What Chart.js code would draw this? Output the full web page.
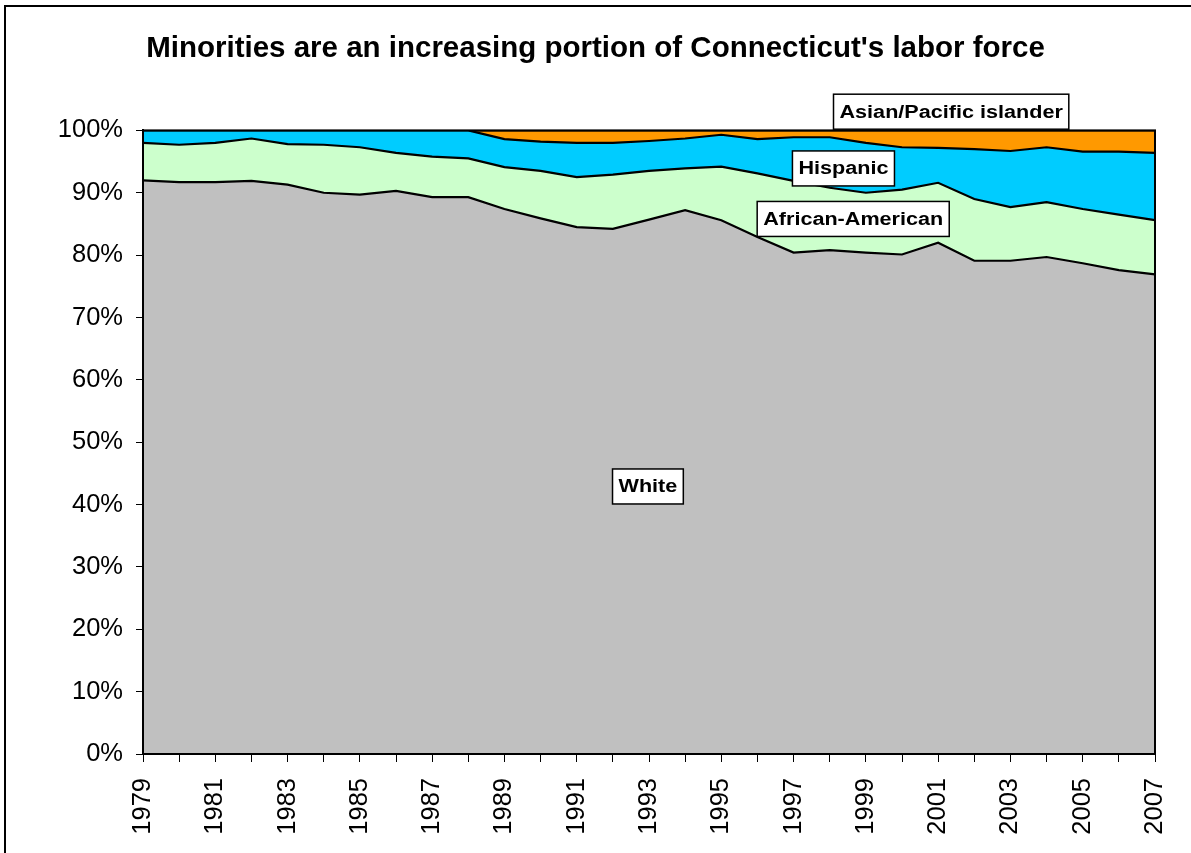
<!DOCTYPE html>
<html>
<head>
<meta charset="utf-8">
<script src="https://cdn.jsdelivr.net/npm/chart.js@4/dist/chart.umd.min.js"></script>
<style>
  html, body { margin: 0; padding: 0; background: #fff; }
  #wrap { width: 1191px; height: 853px; position: relative; }
</style>
</head>
<body>
<div id="wrap"><canvas id="laborChart" width="1191" height="853"></canvas></div>
<script>
const years = ['1979','1980','1981','1982','1983','1984','1985','1986','1987','1988','1989','1990','1991','1992','1993','1994','1995','1996','1997','1998','1999','2000','2001','2002','2003','2004','2005','2006','2007'];

// share of labor force, percent
const white = [92.0, 91.7, 91.7, 91.9, 91.3, 90.0, 89.7, 90.3, 89.3, 89.3, 87.4, 85.9, 84.5, 84.2, 85.7, 87.2, 85.6, 82.9, 80.4, 80.8, 80.4, 80.1, 82.0, 79.1, 79.1, 79.7, 78.7, 77.6, 76.9];
const africanAmerican = [6.0, 6.0, 6.3, 6.8, 6.5, 7.7, 7.6, 6.1, 6.5, 6.2, 6.7, 7.6, 8.0, 8.7, 7.8, 6.7, 8.6, 10.2, 11.5, 10.0, 9.6, 10.4, 9.6, 9.9, 8.6, 8.8, 8.7, 8.9, 8.7];
const hispanic = [2.0, 2.3, 2.0, 1.3, 2.2, 2.3, 2.7, 3.6, 4.2, 4.5, 4.5, 4.7, 5.5, 5.1, 4.8, 4.8, 5.1, 5.5, 7.0, 8.1, 8.0, 6.8, 5.6, 8.0, 9.0, 8.8, 9.2, 10.1, 10.8];
const asianPacific = [0, 0, 0, 0, 0, 0, 0, 0, 0, 0, 1.4, 1.8, 2.0, 2.0, 1.7, 1.3, 0.7, 1.4, 1.1, 1.1, 2.0, 2.7, 2.8, 3.0, 3.3, 2.7, 3.4, 3.4, 3.6];

const yTicks = [0, 10, 20, 30, 40, 50, 60, 70, 80, 90, 100];

// series name boxes: year index and value where each box is centred
const seriesLabels = [
  { text: 'White', at: 13.97, value: 42.9 },
  { text: 'Hispanic', at: 19.38, value: 93.9 },
  { text: 'African-American', at: 19.65, value: 85.8 },
  { text: 'Asian/Pacific islander', at: 22.36, value: 103.0 }
];

const FONT = "'Liberation Sans', Arial, Helvetica, sans-serif";

// frame around the whole chart, the plot frame and the series name boxes
const framePlugin = {
  id: 'frames',
  beforeDraw(chart) {
    const ctx = chart.ctx;
    ctx.save();
    ctx.fillStyle = '#fff';
    ctx.fillRect(0, 0, chart.width, chart.height);
    ctx.strokeStyle = '#000';
    ctx.lineWidth = 2;
    ctx.strokeRect(5, 6, chart.width + 20, chart.height + 20);
    ctx.restore();
  },
  afterDatasetsDraw(chart) {
    const { ctx, chartArea: a } = chart;
    ctx.save();
    ctx.strokeStyle = '#000';
    ctx.lineWidth = 2;
    ctx.strokeRect(a.left, a.top, a.right - a.left, a.bottom - a.top);
    ctx.restore();
  },
  afterDraw(chart) {
    const ctx = chart.ctx;
    const xs = chart.scales.x, ys = chart.scales.y;
    ctx.save();
    ctx.font = 'bold 18px ' + FONT;
    seriesLabels.forEach(l => {
      const cx = xs.getPixelForValue(l.at);
      const cy = ys.getPixelForValue(l.value);
      const tw = ctx.measureText(l.text).width * 1.2;
      const w = tw + 12, h = 35;
      ctx.fillStyle = '#fff';
      ctx.fillRect(cx - w / 2, cy - h / 2, w, h);
      ctx.strokeStyle = '#000';
      ctx.lineWidth = 1.5;
      ctx.strokeRect(cx - w / 2, cy - h / 2, w, h);
      ctx.fillStyle = '#000';
      ctx.textAlign = 'center';
      ctx.textBaseline = 'middle';
      ctx.save();
      ctx.translate(cx, cy + 1);
      ctx.scale(1.2, 1);
      ctx.fillText(l.text, 0, 0);
      ctx.restore();
    });
    ctx.restore();
  }
};

function areaSet(label, data, color, fill) {
  return {
    label: label,
    data: data,
    backgroundColor: color,
    borderColor: '#000',
    borderWidth: 2.2,
    pointRadius: 0,
    tension: 0,
    fill: fill
  };
}

new Chart(document.getElementById('laborChart'), {
  type: 'line',
  data: {
    labels: years,
    datasets: [
      areaSet('White', white, '#C0C0C0', 'origin'),
      areaSet('African-American', africanAmerican, '#CCFFCC', '-1'),
      areaSet('Hispanic', hispanic, '#00CCFF', '-1'),
      areaSet('Asian/Pacific islander', asianPacific, '#FF9900', '-1')
    ]
  },
  options: {
    responsive: false,
    animation: false,
    layout: { padding: 0 },
    plugins: {
      legend: { display: false },
      tooltip: { enabled: false },
      title: {
        display: true,
        text: "Minorities are an increasing portion of Connecticut's labor force",
        color: '#000',
        font: { family: FONT, size: 29.5, weight: 'bold', lineHeight: 1.2 },
        padding: { top: 31, bottom: 64 }
      }
    },
    scales: {
      x: {
        offset: false,
        grid: { drawOnChartArea: false, drawTicks: true, tickLength: 8, color: '#000', lineWidth: 1 },
        border: { color: '#000', width: 2 },
        ticks: {
          autoSkip: false,
          maxRotation: 90,
          minRotation: 90,
          padding: 16,
          color: '#000',
          font: { family: FONT, size: 25.5 },
          callback: function(v, i) { return i % 2 === 0 ? years[i] : ''; }
        },
        afterFit: s => { s.height = 99; s.paddingLeft = 0; s.paddingRight = 36; }
      },
      y: {
        stacked: true,
        min: 0,
        max: 100,
        afterBuildTicks: s => { s.ticks = yTicks.map(v => ({ value: v })); },
        grid: { drawOnChartArea: false, drawTicks: true, tickLength: 7, color: '#000', lineWidth: 1 },
        border: { color: '#000', width: 2 },
        ticks: {
          padding: 13,
          color: '#000',
          font: { family: FONT, size: 25.5 },
          callback: v => v + '%'
        },
        afterFit: s => { s.width = 143; }
      }
    }
  },
  plugins: [framePlugin]
});
</script>
</body>
</html>
